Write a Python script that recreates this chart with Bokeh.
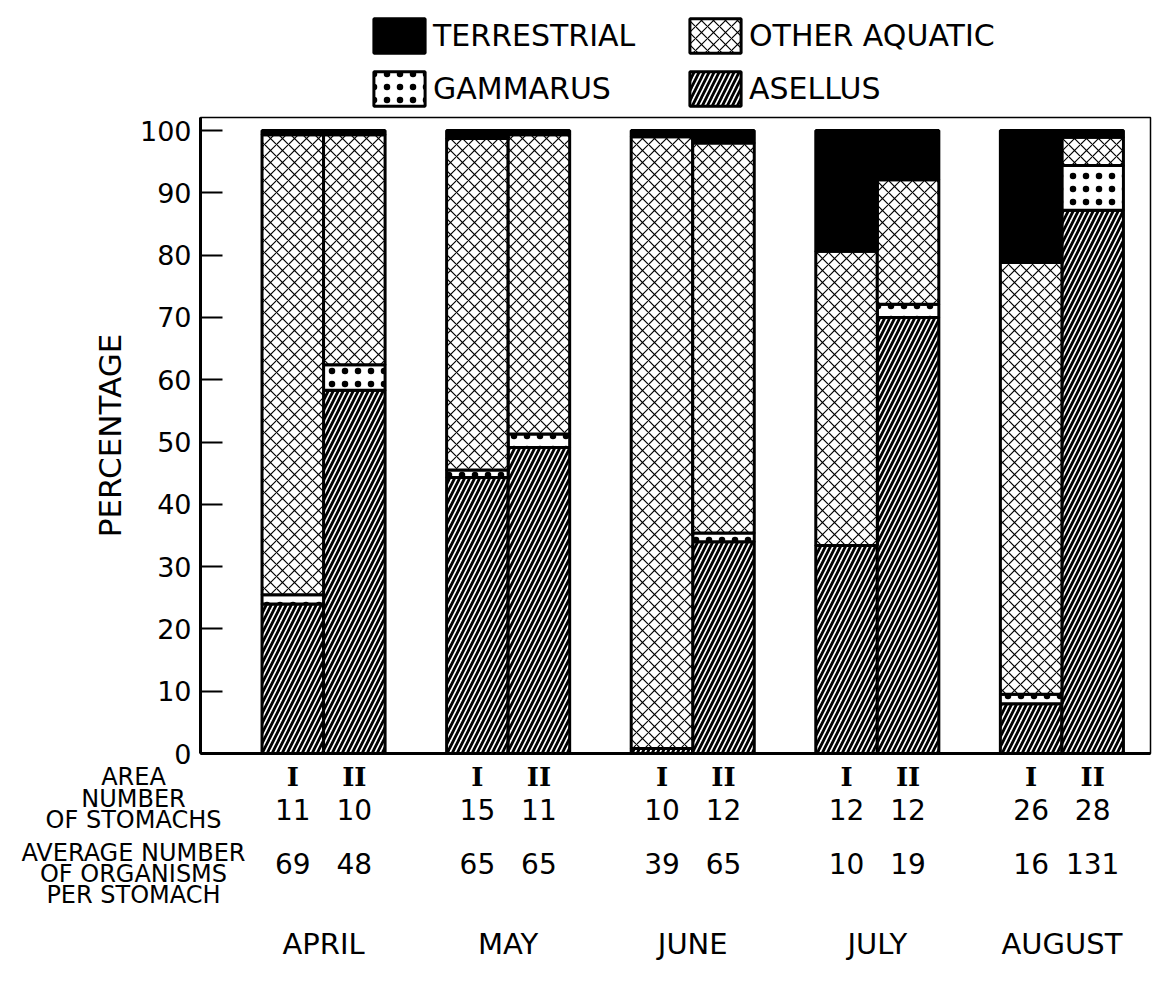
from bokeh.plotting import figure
from bokeh.models import (Range1d, FixedTicker, Legend, LegendItem, ColumnDataSource,
                          BoxAnnotation)
from bokeh.embed import file_html
from bokeh.resources import INLINE
from bokeh.core.properties import value

# ---------------- data ----------------
months = ["APRIL", "MAY", "JUNE", "JULY", "AUGUST"]
areas = ["I", "II"]
# per bar, order: Apr I, Apr II, May I, May II, Jun I, Jun II, Jul I, Jul II, Aug I, Aug II
asellus = [24.0, 58.3, 44.3, 49.1, 0.8, 34.0, 33.4, 70.0, 8.0, 87.2]
gammarus = [1.5, 4.1, 1.2, 2.2, 0.0, 1.4, 0.0, 2.1, 1.5, 7.2]
other_aquatic = [73.8, 36.9, 53.2, 48.0, 98.2, 62.6, 47.2, 20.0, 69.3, 4.5]
terrestrial = [0.7, 0.7, 1.3, 0.7, 1.0, 2.0, 19.4, 7.9, 21.2, 1.1]
n_stomachs = ["11", "10", "15", "11", "10", "12", "12", "12", "26", "28"]
avg_organisms = ["69", "48", "65", "65", "39", "65", "10", "19", "16", "131"]
row_labels = ["AREA", "NUMBER", "OF STOMACHS", "AVERAGE NUMBER", "OF ORGANISMS", "PER STOMACH"]
y_ticks = [0, 10, 20, 30, 40, 50, 60, 70, 80, 90, 100]

FONT = "DejaVu Sans"

# ---------------- layout constants (canvas pixels) ----------------
W, H = 1155, 968
AX_X = 200.0              # pixel of the y axis (x = 0)
FRAME_W = 950.0           # pixel width of the chart box
X_MAX = 15.44
ppu = FRAME_W / X_MAX
Y0_PX, PX_PER_PCT = 753.0, 6.23
Y_TOP = 102.1


def py2y(py):
    return (Y0_PX - py) / PX_PER_PCT


def px2x(px):
    return (px - AX_X) / ppu


xs = []
bar_area = []
for g in range(len(months)):
    for k in range(len(areas)):
        xs.append(1.5 + 3 * g + k)
        bar_area.append(areas[k])
month_x = [2.0 + 3 * g for g in range(len(months))]

src = ColumnDataSource(dict(x=xs, asellus=asellus, gammarus=gammarus,
                            other=other_aquatic, terrestrial=terrestrial))

p = figure(width=W, height=H, x_range=Range1d(px2x(0), px2x(W)),
           y_range=Range1d(py2y(H), py2y(0)),
           output_backend="svg", toolbar_location=None, x_axis_type=None,
           min_border=0)
p.grid.visible = False
p.outline_line_color = None

rs = p.vbar_stack(["asellus", "gammarus", "other", "terrestrial"], x="x", width=1.0, source=src,
                  fill_color=["white", "white", "white", "black"],
                  hatch_pattern=["/", ".", "x", None],
                  hatch_color="black",
                  hatch_scale=[10, 13, 12, 12],
                  hatch_weight=[2.8, 4.0, 1.2, 1.0],
                  line_color="black", line_width=3)

# chart box (top / right) and base line
p.add_layout(BoxAnnotation(left=0, right=X_MAX, bottom=0, top=Y_TOP, fill_alpha=0,
                           line_color="black", line_alpha=1, line_width=1.5))
p.segment(x0=[0], y0=[0], x1=[X_MAX], y1=[0], line_color="black", line_width=3)

ya = p.yaxis[0]
ya.fixed_location = 0
ya.bounds = (0, Y_TOP)
ya.ticker = FixedTicker(ticks=y_ticks)
ya.minor_tick_line_color = None
ya.major_tick_in = 22
ya.major_tick_out = 0
ya.major_tick_line_width = 2
ya.axis_line_width = 3
ya.major_label_text_font = FONT
ya.major_label_text_font_size = "27px"
ya.major_label_text_color = "black"
ya.major_label_standoff = 9
ya.axis_label = "PERCENTAGE"
ya.axis_label_text_font = FONT
ya.axis_label_text_font_size = "31px"
ya.axis_label_text_font_style = "normal"
ya.axis_label_text_color = "black"
ya.axis_label_standoff = 9

legend = Legend(items=[LegendItem(label="TERRESTRIAL", renderers=[rs[3]]),
                       LegendItem(label="GAMMARUS", renderers=[rs[1]]),
                       LegendItem(label="OTHER AQUATIC", renderers=[rs[2]]),
                       LegendItem(label="ASELLUS", renderers=[rs[0]])],
                ncols=2, orientation="vertical", location=(367, H - 110),
                glyph_width=64, glyph_height=43, label_width=240, label_height=43,
                label_standoff=2, spacing=10, padding=0, margin=0,
                border_line_color=None, background_fill_alpha=0,
                label_text_font=FONT, label_text_font_size="30px", label_text_color="black")
p.add_layout(legend, "center")

# ---------------- table below the bars ----------------
row_label_py = [776, 798, 819, 852, 873, 894]
p.text(x=[px2x(133)] * len(row_labels), y=[py2y(v) for v in row_label_py], text=row_labels,
       text_font=value(FONT), text_font_size="24px",
       text_align="center", text_baseline="middle", text_color="black")

p.text(x=xs, y=[py2y(776)] * len(xs), text=bar_area, text_font=value("DejaVu Serif"),
       text_font_style="bold", text_font_size="26px", text_align="center",
       text_baseline="middle", text_color="black")
p.text(x=xs, y=[py2y(809)] * len(xs), text=n_stomachs, text_font=value(FONT),
       text_font_size="28px", text_align="center", text_baseline="middle", text_color="black")
p.text(x=xs, y=[py2y(863)] * len(xs), text=avg_organisms, text_font=value(FONT),
       text_font_size="28px", text_align="center", text_baseline="middle", text_color="black")
p.text(x=month_x, y=[py2y(943)] * len(month_x), text=months, text_font=value(FONT),
       text_font_size="29px", text_align="center", text_baseline="middle", text_color="black")

open("out.html", "w").write(file_html(p, INLINE))
